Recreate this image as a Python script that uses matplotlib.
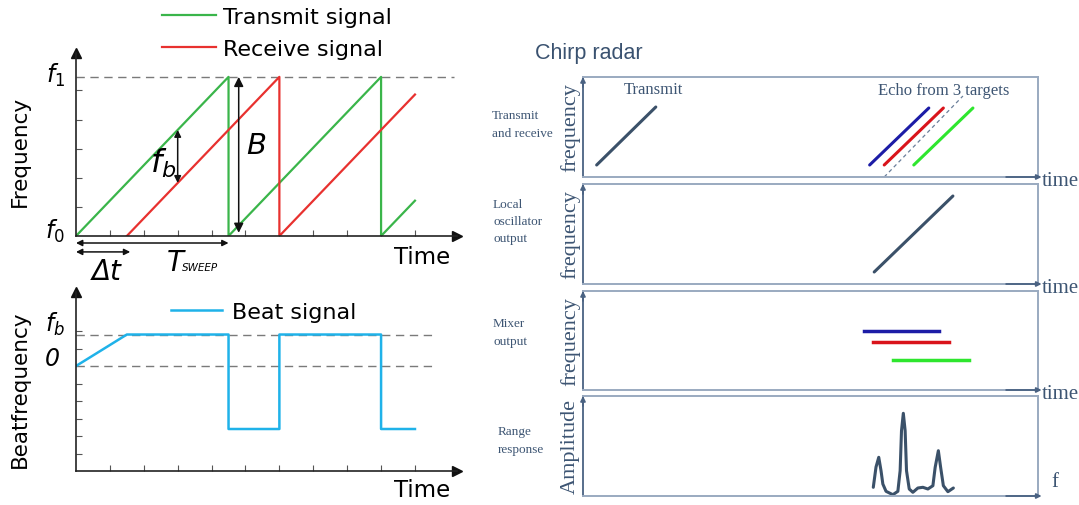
import numpy as np
import matplotlib
matplotlib.use("Agg")
import matplotlib.pyplot as plt

plt.rcParams['font.family'] = ['DejaVu Sans']
plt.rcParams['mathtext.fontset'] = 'custom'
plt.rcParams['mathtext.it'] = 'DejaVu Sans:italic'
plt.rcParams['mathtext.rm'] = 'DejaVu Sans'

# ---------------- data: FMCW sawtooth (left) ----------------
tx_t = [0, 4.5, 4.5, 9, 9, 10]
tx_f = [0, 1, 0, 1, 0, 0.222]
rx_t = [1.5, 6, 6, 10]
rx_f = [0, 1, 0, 0.889]
freq_ticks = [0.183, 0.366, 0.549, 0.732, 0.915]
time_ticks = [1, 2, 3, 4, 5, 6, 7, 8, 9, 10]

beat_fb = 1.8
beat_low = -3.6
beat_t = [0, 1.5, 4.5, 4.5, 6, 6, 9, 9, 10]
beat_v = [0, beat_fb, beat_fb, beat_low, beat_low, beat_fb, beat_fb, beat_low, beat_low]
beat_ticks = [-5, -4, -3, -2, -1, 1, 2]

fb_time = 3.0
B_time = 4.8
sweep_T = 4.5
delta_t = 1.6

# ---------------- data: chirp radar (right) ----------------
transmit_x = [0.3, 1.6]
transmit_y = [1.2, 7.0]
echo_blue_x = [6.3, 7.6]
echo_red_x = [6.62, 7.92]
echo_green_x = [7.27, 8.57]
echo_y = [1.2, 6.9]
echo_dash_x = [6.62, 8.35]
echo_dash_y = [0.0, 8.1]
lo_x = [6.4, 8.13]
lo_y = [1.2, 8.8]
mix_blue_x = [6.18, 7.82]
mix_blue_y = 5.96
mix_red_x = [6.37, 8.04]
mix_red_y = 4.85
mix_green_x = [6.81, 8.48]
mix_green_y = 3.03
range_x = [6.38, 6.44, 6.50, 6.55, 6.59, 6.66, 6.81, 6.92, 6.97, 7.00, 7.04,
           7.08, 7.11, 7.17, 7.25, 7.36, 7.47, 7.58, 7.69, 7.74, 7.81, 7.86,
           7.92, 8.02, 8.14]
range_y = [0.87, 2.9, 3.87, 2.53, 1.2, 0.47, 0.13, 0.47, 2.53, 6.53, 8.27,
           6.53, 2.53, 0.7, 0.37, 0.8, 0.87, 0.7, 1.03, 2.87, 4.53, 2.87,
           1.03, 0.43, 0.8]

W, H = 1079, 506
fig = plt.figure(figsize=(W / 100, H / 100), dpi=100)

def rect(l, t, r, b):
    return [l / W, 1 - b / H, (r - l) / W, (b - t) / H]

GREEN = '#3ab54a'
RED = '#e8312f'
BEAT = '#1fb2e9'
DASH = '#7a7a7a'

def left_axes(ax):
    for s in ['top', 'right']:
        ax.spines[s].set_visible(False)
    for s in ['left', 'bottom']:
        ax.spines[s].set_color('#222222')
        ax.spines[s].set_linewidth(1.2)
    ax.plot(1, 0, '>', color='#111111', ms=7, transform=ax.transAxes, clip_on=False)
    ax.plot(0, 1, '^', color='#111111', ms=7, transform=ax.transAxes, clip_on=False)
    ax.tick_params(direction='in', length=4, width=0.8, color='#555555',
                   labelbottom=False, labelleft=False)

# ---------- left top ----------
ax1 = fig.add_axes(rect(76, 54, 457, 237))
ax1.set_xlim(0, 11.24)
ax1.set_ylim(0, 1.15)
left_axes(ax1)
ax1.set_xticks(time_ticks)
ax1.set_yticks(freq_ticks)
ax1.plot([0, 11.15], [1, 1], ls=(0, (6, 4)), color=DASH, lw=1.0)
l_tx, = ax1.plot(tx_t, tx_f, color=GREEN, lw=1.6, label='Transmit signal')
l_rx, = ax1.plot(rx_t, rx_f, color=RED, lw=1.6, label='Receive signal')
ax1.legend(handles=[l_tx, l_rx], loc='upper left', bbox_to_anchor=(162 / W, 1 - 8 / H),
           bbox_transform=fig.transFigure, frameon=False, fontsize=16,
           handlelength=2.45, handletextpad=0.3, borderpad=0, borderaxespad=0,
           labelspacing=0.55)

g_at = np.interp(fb_time, tx_t[:2], tx_f[:2])
r_at = np.interp(fb_time, rx_t[:2], rx_f[:2])
ax1.annotate('', xy=(fb_time, g_at), xytext=(fb_time, r_at),
             arrowprops=dict(arrowstyle='<|-|>', color='#111111', lw=1.1,
                             mutation_scale=10, shrinkA=0, shrinkB=0))
ax1.text(2.58, 0.46, r'$f_b$', fontsize=23, ha='center', va='center')
ax1.annotate('', xy=(B_time, 1.0), xytext=(B_time, 0.02),
             arrowprops=dict(arrowstyle='<|-|>', color='#111111', lw=1.1,
                             mutation_scale=14, shrinkA=0, shrinkB=0))
ax1.text(5.31, 0.57, 'B', fontsize=21, style='italic', ha='center', va='center')
ax1.annotate('', xy=(0, -0.044), xytext=(sweep_T, -0.044),
             arrowprops=dict(arrowstyle='<|-|>', color='#111111', lw=1.1,
                             mutation_scale=9, shrinkA=0, shrinkB=0),
             annotation_clip=False)
ax1.annotate('', xy=(0, -0.10), xytext=(delta_t, -0.10),
             arrowprops=dict(arrowstyle='<|-|>', color='#111111', lw=1.1,
                             mutation_scale=9, shrinkA=0, shrinkB=0),
             annotation_clip=False)
ax1.text(0.9, -0.22, 'Δt', fontsize=20, style='italic', ha='center', va='center',
         clip_on=False)
ax1.text(2.92, -0.165, 'T', fontsize=20, style='italic', ha='center', va='center',
         clip_on=False)
ax1.text(3.65, -0.195, 'SWEEP', fontsize=7.5, style='italic', ha='center', va='center',
         clip_on=False)
ax1.text(10.2, -0.126, 'Time', fontsize=16.5, ha='center', va='center', clip_on=False)
ax1.annotate(r'$f_{\mathit{1}}$', xy=(0, 1.0), xycoords=('axes fraction', 'data'),
             xytext=(-15, 2), textcoords='offset points', fontsize=17,
             ha='center', va='center')
ax1.annotate(r'$f_{\mathit{0}}$', xy=(0, 0.0), xycoords=('axes fraction', 'data'),
             xytext=(-15, 4), textcoords='offset points', fontsize=17,
             ha='center', va='center')
ax1.set_ylabel('Frequency', fontsize=15.5)
ax1.yaxis.set_label_coords(-0.122, 0.47)

# ---------- left bottom ----------
ax2 = fig.add_axes(rect(76, 293, 457, 472))
ax2.set_xlim(0, 11.24)
ax2.set_ylim(-6, 4.23)
left_axes(ax2)
ax2.set_xticks(time_ticks)
ax2.set_yticks(beat_ticks)
ax2.plot([0, 10.5], [beat_fb, beat_fb], ls=(0, (6, 4)), color=DASH, lw=1.0)
ax2.plot([0, 10.5], [0, 0], ls=(0, (6, 4)), color=DASH, lw=1.0)
l_b, = ax2.plot(beat_t, beat_v, color=BEAT, lw=1.8, label='Beat signal')
ax2.legend(handles=[l_b], loc='center left', bbox_to_anchor=(171 / W, 1 - 313 / H),
           bbox_transform=fig.transFigure, frameon=False, fontsize=16,
           handlelength=2.3, handletextpad=0.45, borderpad=0, borderaxespad=0)
ax2.text(10.2, -7.05, 'Time', fontsize=16.5, ha='center', va='center', clip_on=False)
ax2.annotate(r'$f_{b}$', xy=(0, beat_fb), xycoords=('axes fraction', 'data'),
             xytext=(-15, 8), textcoords='offset points', fontsize=17,
             ha='center', va='center')
ax2.annotate('0', xy=(0, 0), xycoords=('axes fraction', 'data'),
             xytext=(-17, 6), textcoords='offset points', fontsize=17,
             style='italic', ha='center', va='center')
ax2.set_ylabel('Beatfrequency', fontsize=15.5)
ax2.yaxis.set_label_coords(-0.122, 0.46)

# ---------- right side ----------
SLATE = '#3b5169'
TXT = '#3d5573'
BOX = '#9aaac0'
AXD = '#4a6282'
NAVY = '#1c1ca6'
RRED = '#d9141b'
RGREEN = '#2ee62e'
SERIF = 'Liberation Serif'

fig.text(535 / W, 1 - 53 / H, 'Chirp radar', fontsize=15.5, color='#3a5270',
         family='Liberation Sans', ha='left', va='center')

panels = [(78, 178), (185, 285), (292, 391), (397, 497)]
side_labels = ['Transmit\nand receive', 'Local\noscillator\noutput', 'Mixer\noutput',
               'Range\nresponse']
side_x = [492, 493, 493, 498]
side_y = [125, 222, 333, 441]
ylabels = ['frequency', 'frequency', 'frequency', 'Amplitude']
xlabels = ['time', 'time', 'time', 'f']
axes_r = []
for i, (t, b) in enumerate(panels):
    ax = fig.add_axes(rect(583, t, 1038, b))
    ax.set_xlim(0, 10)
    ax.set_ylim(0, 10)
    ax.set_xticks([])
    ax.set_yticks([])
    for s in ['top', 'right', 'bottom']:
        ax.spines[s].set_color(BOX)
        ax.spines[s].set_linewidth(1.4)
    ax.spines['left'].set_color(AXD)
    ax.spines['left'].set_linewidth(1.3)
    ax.annotate('', xy=(0, 1.0), xytext=(0, 0.9), xycoords='axes fraction',
                arrowprops=dict(arrowstyle='-|>', color=AXD, lw=1.3,
                                mutation_scale=7, shrinkA=0, shrinkB=0))
    ax.annotate('', xy=(1.008, 0), xytext=(0.93, 0), xycoords='axes fraction',
                arrowprops=dict(arrowstyle='-|>', color=AXD, lw=1.3,
                                mutation_scale=7, shrinkA=0, shrinkB=0),
                annotation_clip=False)
    ax.set_ylabel(ylabels[i], fontsize=16, family=SERIF, color=TXT)
    ax.yaxis.set_label_coords(-0.006, 0.5)
    fig.text(side_x[i] / W, 1 - side_y[i] / H, side_labels[i], fontsize=9.5,
             family=SERIF, color=TXT, ha='left', va='center', linespacing=1.6)
    if xlabels[i] == 'f':
        ax.text(1.03, 0.14, 'f', transform=ax.transAxes, fontsize=15, family=SERIF,
                color=TXT, ha='left', va='center')
    else:
        ax.text(1.008, -0.04, 'time', transform=ax.transAxes, fontsize=15, family=SERIF,
                color=TXT, ha='left', va='center')
    axes_r.append(ax)

a1, a2, a3, a4 = axes_r
a1.plot(transmit_x, transmit_y, color=SLATE, lw=2.2, solid_capstyle='round')
a1.plot(echo_blue_x, echo_y, color=NAVY, lw=2.2, solid_capstyle='round')
a1.plot(echo_red_x, echo_y, color=RRED, lw=2.2, solid_capstyle='round')
a1.plot(echo_green_x, echo_y, color=RGREEN, lw=2.2, solid_capstyle='round')
a1.plot(echo_dash_x, echo_dash_y, color='#6a7f9a', lw=0.9, ls=(0, (3, 2.5)))
a1.text(1.54, 8.8, 'Transmit', fontsize=12, family=SERIF, color=TXT,
        ha='center', va='center')
a1.text(7.93, 8.7, 'Echo from 3 targets', fontsize=12, family=SERIF, color=TXT,
        ha='center', va='center')

a2.plot(lo_x, lo_y, color=SLATE, lw=2.2, solid_capstyle='round')

a3.plot(mix_blue_x, [mix_blue_y] * 2, color=NAVY, lw=2.5)
a3.plot(mix_red_x, [mix_red_y] * 2, color=RRED, lw=2.5)
a3.plot(mix_green_x, [mix_green_y] * 2, color=RGREEN, lw=2.5)

a4.plot(range_x, range_y, color=SLATE, lw=2.2, solid_capstyle='round',
        solid_joinstyle='round')

fig.savefig('out.png', dpi=100)
